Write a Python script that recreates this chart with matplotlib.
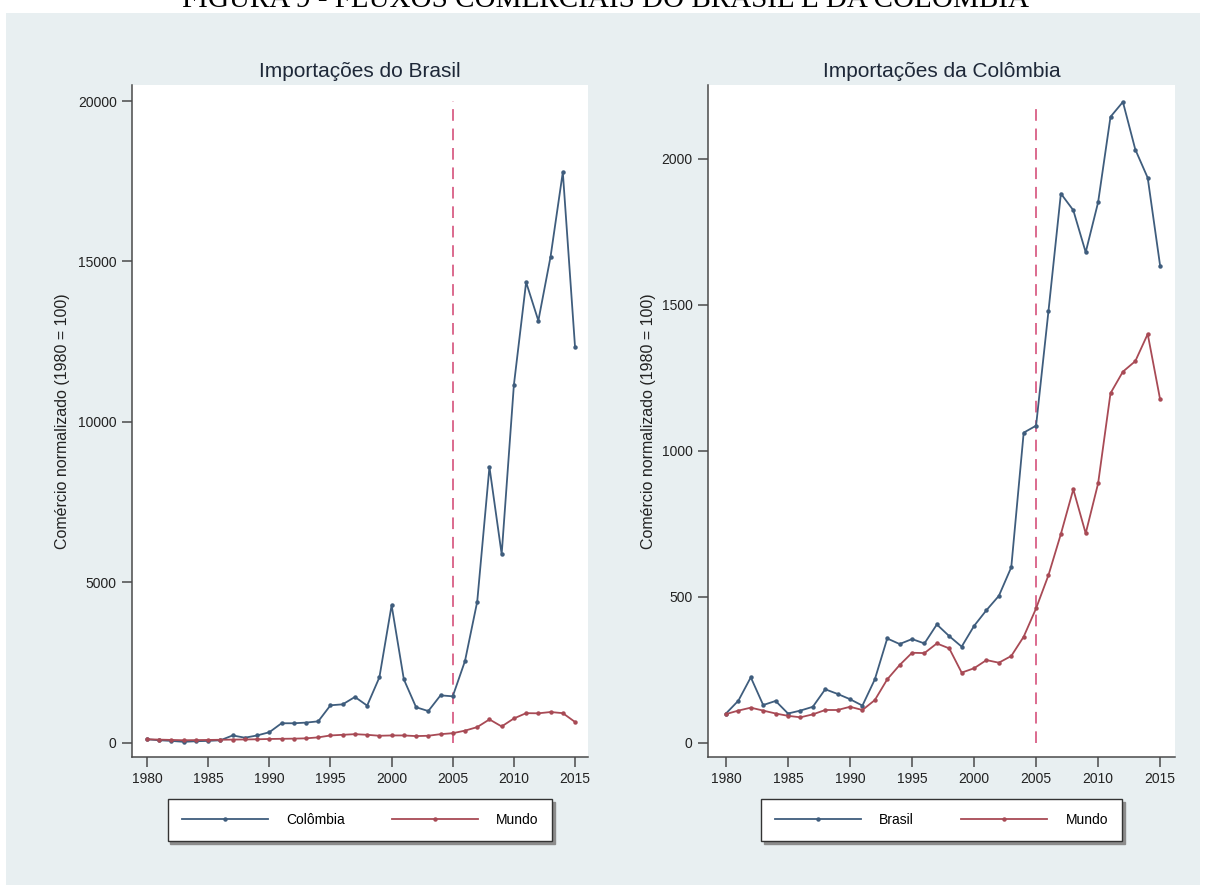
import numpy as np
import matplotlib
matplotlib.use('Agg')
import matplotlib.pyplot as plt
from matplotlib.patches import Rectangle

years = np.arange(1980, 2016)

# Importações do Brasil (1980 = 100)
bra_col = [100, 70, 50, 20, 40, 50, 70, 220, 150, 220, 320, 600, 600, 620, 660,
           1160, 1190, 1420, 1150, 2030, 4280, 1970, 1100, 980, 1470, 1440,
           2540, 4390, 8590, 5870, 11150, 14350, 13150, 15150, 17780, 12330]
bra_mundo = [100, 90, 80, 70, 75, 80, 85, 90, 95, 100, 110, 115, 120, 130, 160,
             220, 240, 260, 240, 210, 220, 220, 200, 210, 260, 290,
             370, 480, 720, 500, 750, 915, 910, 950, 915, 640]

# Importações da Colômbia (1980 = 100)
col_bra = [100, 144, 224, 129, 143, 100, 110, 123, 183, 167, 149, 127, 217, 357, 338,
           355, 340, 405, 365, 329, 400, 454, 503, 601, 1062, 1086,
           1479, 1881, 1824, 1680, 1851, 2144, 2195, 2032, 1935, 1634]
col_mundo = [98, 110, 120, 110, 100, 92, 87, 97, 112, 112, 123, 112, 146, 217, 266,
             308, 307, 340, 323, 240, 255, 283, 274, 297, 363, 460,
             574, 715, 868, 717, 888, 1197, 1271, 1307, 1400, 1176]

xticks = [1980, 1985, 1990, 1995, 2000, 2005, 2010, 2015]

blue = '#3f5d7d'
red = '#a84a55'
pink = '#dc6a8e'
axcol = '#4a4a4a'
bg = '#e8eff1'

W, H = 1205, 885
fig = plt.figure(figsize=(W / 100, H / 100), dpi=100)
fig.patch.set_facecolor('white')
fig.add_artist(Rectangle((6 / W, 0), (1200 - 6) / W, (H - 13) / H,
                         transform=fig.transFigure, facecolor=bg, edgecolor='none', zorder=-10))

# page title, cut at the top edge as in the scanned figure
fig.text(182 / W, 1 - 7 / H, 'FIGURA 9 - FLUXOS COMERCIAIS DO BRASIL E DA COLÔMBIA',
         family=['Liberation Serif', 'DejaVu Serif'], fontsize=21, ha='left', va='baseline')

sans = ['Liberation Sans', 'DejaVu Sans']
narrow = ['Liberation Sans Narrow', 'Liberation Sans', 'DejaVu Sans']


def panel(rect, title, s1, s2, lab1, ylim, yticks, xlim, labx):
    ax = fig.add_axes(rect)
    ax.set_facecolor('white')
    l1, = ax.plot(years, s1, color=blue, lw=1.3, marker='o', ms=2.2, label=lab1)
    l2, = ax.plot(years, s2, color=red, lw=1.3, marker='o', ms=2.2, label='Mundo')
    ytop = max(max(yticks), max(s1), max(s2))
    ax.vlines(2005, 0, ytop, colors=pink, linestyles=(0, (6, 4)), lw=1.4, zorder=1)
    ax.set_xlim(*xlim)
    ax.set_ylim(*ylim)
    ax.set_xticks(xticks)
    ax.set_yticks(yticks)
    ax.set_xticklabels([str(t) for t in xticks], family=narrow, fontsize=10)
    ax.set_yticklabels([str(t) for t in yticks], family=narrow, fontsize=10)
    for s in ['top', 'right']:
        ax.spines[s].set_visible(False)
    for s in ['left', 'bottom']:
        ax.spines[s].set_color(axcol)
        ax.spines[s].set_linewidth(1.1)
    ax.tick_params(axis='both', colors=axcol, labelcolor='#222222', length=7, width=1.1, pad=4)
    ax.set_title(title, family=sans, fontsize=15, color='#1e2838', pad=6)
    ax.set_ylabel('Comércio normalizado (1980 = 100)', family=sans, fontsize=11.5, color='#222222')
    ax.yaxis.set_label_coords(labx, 0.5)
    leg = ax.legend(handles=[l1, l2], loc='center', ncol=2,
                    bbox_to_anchor=((rect[0] + rect[2] / 2), 1 - 820 / H),
                    bbox_transform=fig.transFigure,
                    prop={'family': narrow, 'size': 10}, frameon=True, fancybox=False,
                    shadow={'color': '0.55', 'alpha': 1}, numpoints=1,
                    handlelength=6.2, handletextpad=1.3, columnspacing=3.4,
                    borderpad=1.0, borderaxespad=0)
    leg.get_frame().set_edgecolor('#333333')
    leg.get_frame().set_linewidth(1.0)
    return ax


bot = (H - 757) / H
ht = (757 - 85) / H
panel([132 / W, bot, (588 - 132) / W, ht], 'Importações do Brasil',
      bra_col, bra_mundo, 'Colômbia', (-452, 20499),
      [0, 5000, 10000, 15000, 20000], (1978.77, 2016.06), -62 / 456)
panel([708 / W, bot, (1175 - 708) / W, ht], 'Importações da Colômbia',
      col_bra, col_mundo, 'Brasil', (-49, 2253),
      [0, 500, 1000, 1500, 2000], (1978.55, 2016.2), -52 / 467)

fig.savefig('out.png', dpi=100, facecolor='white')
